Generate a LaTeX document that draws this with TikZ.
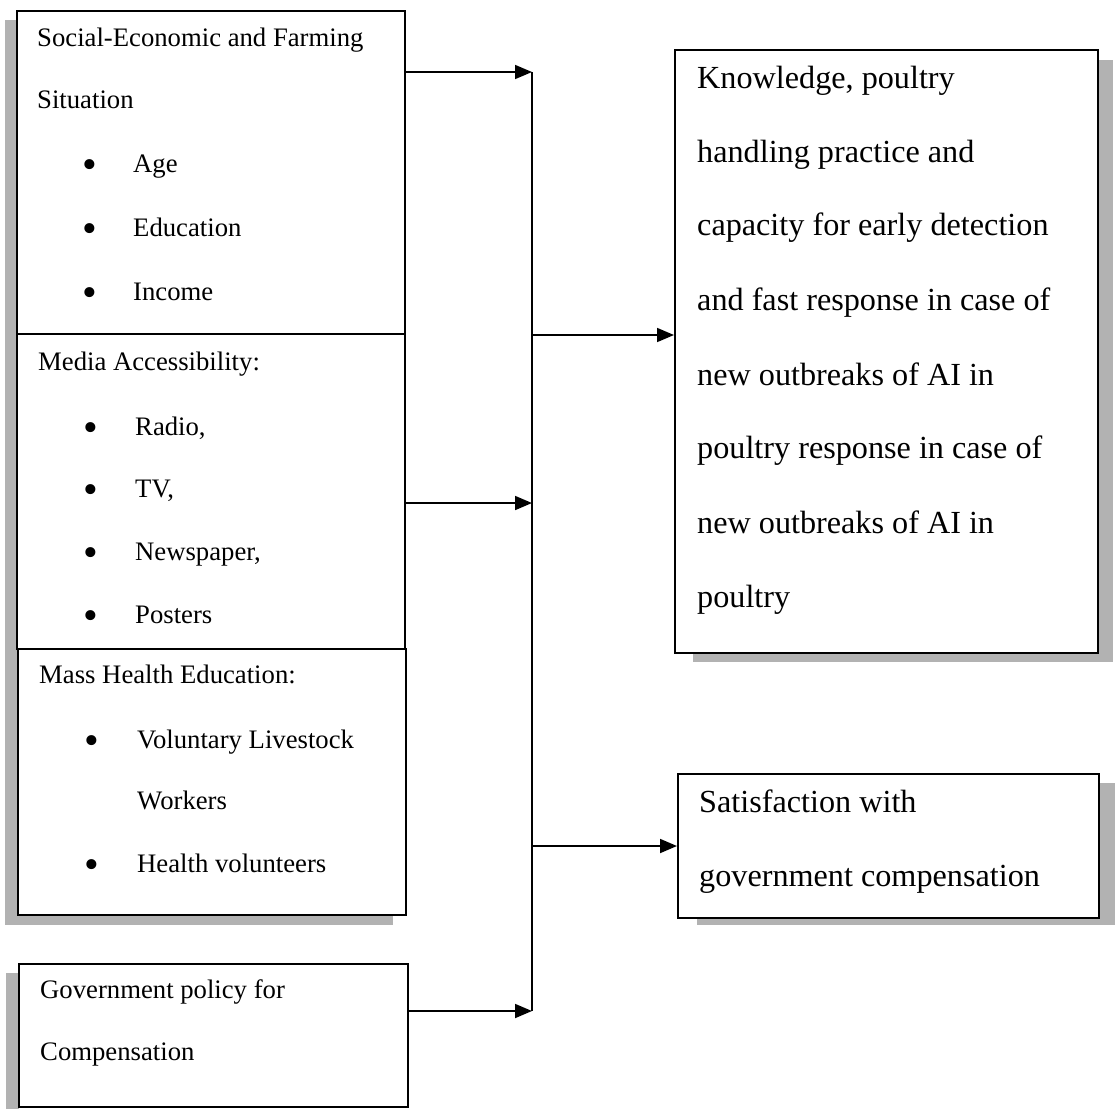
\documentclass[tikz,border=0pt]{standalone}
\usepackage{fontspec}
\setmainfont{Liberation Serif}
\usetikzlibrary{arrows.meta}
\begin{document}
\begin{tikzpicture}[x=1pt,y=-1pt,
  box/.style={draw=black, line width=1.7pt, fill=white, inner sep=0pt, anchor=north west},
  shadowband/.style={fill=black!30, draw=none},
  lt/.style={anchor=base west, inner sep=0pt, font=\fontsize{26.7}{32}\selectfont},
  rt/.style={anchor=base west, inner sep=0pt, font=\fontsize{32.2}{38}\selectfont},
  bul/.style={anchor=center, inner sep=0pt, font=\fontsize{42}{42}\selectfont},
  conn/.style={line width=1.7pt},
  arr/.style={conn, -{Triangle[length=17pt,width=14pt]}}
]
\useasboundingbox (0,0) rectangle (1115,1109);
\fill[white] (0,0) rectangle (1115,1109);

% shadows
\fill[shadowband] (5,20) rectangle (17,925);
\fill[shadowband] (7,912) rectangle (393,925);
\fill[shadowband] (6,973) rectangle (19,1109);
\fill[shadowband] (1096,60) rectangle (1113,662);
\fill[shadowband] (693,650) rectangle (1113,662);
\fill[shadowband] (1097,783) rectangle (1115,925);
\fill[shadowband] (697,915) rectangle (1115,925);

% boxes
\node[box, minimum width=388pt, minimum height=323pt] (b1) at (16,10) {};
\node[box, minimum width=388pt, minimum height=315pt] (b2) at (16,333) {};
\node[box, minimum width=388pt, minimum height=266pt] (b3) at (17,648) {};
\node[box, minimum width=389pt, minimum height=143pt] (b4) at (18,963) {};
\node[box, minimum width=423pt, minimum height=603pt] (r1) at (674,49) {};
\node[box, minimum width=421pt, minimum height=144pt] (r2) at (677,773) {};

% box 1 text
\node[lt] (t11) at (37,46) {Social-Economic and Farming};
\node[lt] (t12) at (37,108) {Situation};
\node[bul] (u11) at (90,169) {•};
\node[lt] (t13) at (133,172) {Age};
\node[bul] (u12) at (90,233) {•};
\node[lt] (t14) at (133,236) {Education};
\node[bul] (u13) at (90,297) {•};
\node[lt] (t15) at (133,300) {Income};

% box 2 text
\node[lt] (t21) at (38,370) {Media Accessibility:};
\node[bul] (u21) at (91,432) {•};
\node[lt] (t22) at (135,435) {Radio,};
\node[bul] (u22) at (91,494) {•};
\node[lt] (t23) at (135,497) {TV,};
\node[bul] (u23) at (91,557) {•};
\node[lt] (t24) at (135,560) {Newspaper,};
\node[bul] (u24) at (91,620) {•};
\node[lt] (t25) at (135,623) {Posters};

% box 3 text
\node[lt] (t31) at (39,683) {Mass Health Education:};
\node[bul] (u31) at (92,745) {•};
\node[lt] (t32) at (137,748) {Voluntary Livestock};
\node[lt] (t33) at (137,809) {Workers};
\node[bul] (u32) at (92,869) {•};
\node[lt] (t34) at (137,872) {Health volunteers};

% box 4 text
\node[lt] (t41) at (40,998) {Government policy for};
\node[lt] (t42) at (40,1060) {Compensation};

% right box 1 text
\node[rt] (s1) at (697,88) {Knowledge, poultry};
\node[rt] (s2) at (697,162) {handling practice and};
\node[rt] (s3) at (697,235) {capacity for early detection};
\node[rt] (s4) at (697,310) {and fast response in case of};
\node[rt] (s5) at (697,385) {new outbreaks of AI in};
\node[rt] (s6) at (697,458) {poultry response in case of};
\node[rt] (s7) at (697,533) {new outbreaks of AI in};
\node[rt] (s8) at (697,607) {poultry};

% right box 2 text
\node[rt] (q1) at (699,812) {Satisfaction with};
\node[rt] (q2) at (699,886) {government compensation};

% connectors
\coordinate (j1) at (532,72);
\coordinate (j2) at (532,503);
\coordinate (j3) at (532,1011);
\coordinate (o1) at (532,335);
\coordinate (o2) at (532,846);

\draw[arr] (b1.east |- j1) -- (j1);
\draw[arr] (b2.east |- j2) -- (j2);
\draw[arr] (b4.east |- j3) -- (j3);
\draw[conn] (j1) -- (j3);
\draw[arr] (o1) -- (r1.west |- o1);
\draw[arr] (o2) -- (r2.west |- o2);
\end{tikzpicture}
\end{document}
